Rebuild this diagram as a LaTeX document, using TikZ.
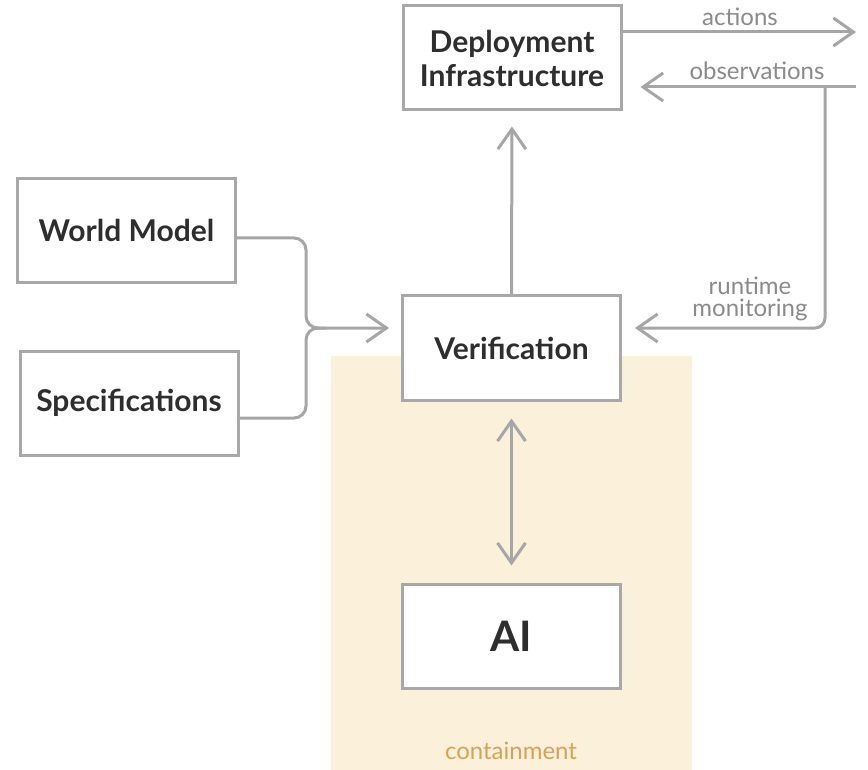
\documentclass[tikz,border=0pt]{standalone}
\usepackage{fontspec}
\setmainfont{Lato}
\usetikzlibrary{arrows.meta}
\definecolor{linegray}{HTML}{A6A6A6}
\definecolor{boxgray}{HTML}{A8A8A8}
\definecolor{textdark}{HTML}{2E2E2E}
\definecolor{labelgray}{HTML}{8A8A8A}
\definecolor{contbg}{HTML}{FBF0DA}
\definecolor{contlabel}{HTML}{D6A355}
\tikzset{
  box/.style={draw=boxgray, line width=3pt, fill=white, minimum width=218pt, minimum height=104pt,
    inner sep=0pt, align=center, text=textdark, font=\bfseries\fontsize{30}{34}\selectfont},
  conn/.style={draw=linegray, line width=3pt, -{Straight Barb[length=20pt,width=28pt,line width=3pt]}},
  plain/.style={draw=linegray, line width=3pt},
  lbl/.style={text=labelgray, font=\fontsize{24}{22}\selectfont, inner sep=0pt, align=center}
}
\begin{document}
\begin{tikzpicture}[x=1pt,y=-1pt]
\useasboundingbox (0,0) rectangle (868,770);
\fill[contbg] (331,356) rectangle (692,770);
\node[text=contlabel, font=\fontsize{24}{24}\selectfont] (contlbl) at (511,751) {containment};

\node[box] (dep) at (512,58) {Deployment\\Infrastructure};
\node[box] (wm) at (126.5,230.5) {World Model};
\node[box] (spec) at (129,403) {Specifications};
\node[box] (ver) at (511.5,348) {Verification};
\node[box, font=\bfseries\fontsize{42}{44}\selectfont] (ai) at (511.5,636) {AI};

% verification -> deployment
\draw[conn, shorten >=15pt] (ver.north) -- (dep.south);

% actions
\coordinate (actend) at (856,32);
\draw[conn] (dep.east |- actend) -- (actend);
\node[lbl] (actlbl) at (740,17) {actions};

% observations
\coordinate (obsstart) at (856,87);
\coordinate (branch) at (825,87);
\draw[conn, shorten >=18pt] (obsstart) -- (dep.east |- obsstart);
\node[lbl] (obslbl) at (757,71) {observations};

% runtime monitoring
\coordinate (rmcorner) at (825,328);
\draw[conn, rounded corners=10pt, shorten >=13pt] (branch) -- (rmcorner) -- (ver.east |- rmcorner);
\node[lbl] (rmlbl) at (750,299) {runtime\\monitoring};

% merge of world model and specifications
\coordinate (mtop) at (306,238);
\coordinate (mjoin) at (306,328);
\coordinate (mbot) at (306,418);
\draw[conn, rounded corners=12pt, shorten >=12pt] (wm.east |- mtop) -- (mtop) -- (mjoin) -- (ver.west |- mjoin);
\draw[plain, rounded corners=12pt] (spec.east |- mbot) -- (mbot) -- (mjoin) -- ++(20,0);

% verification <-> AI
\draw[draw=linegray, line width=3pt, {Straight Barb[length=20pt,width=28pt,line width=3pt]}-{Straight Barb[length=20pt,width=28pt,line width=3pt]}, shorten >=17pt, shorten <=17pt] (ver.south) -- (ai.north);
\end{tikzpicture}
\end{document}
